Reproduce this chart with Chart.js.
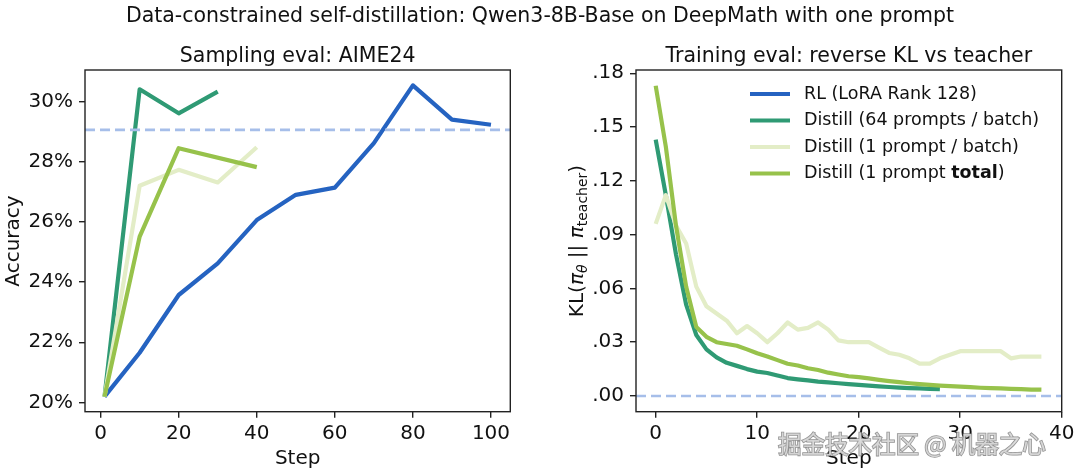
<!DOCTYPE html>
<html>
<head>
<meta charset="utf-8">
<script src="https://cdn.jsdelivr.net/npm/chart.js@4.4.0/dist/chart.umd.min.js"></script>
<style>
  html, body { margin: 0; padding: 0; background: #fff; }
  #wrap { position: relative; width: 1080px; height: 476px; }
  canvas { position: absolute; left: 0; top: 0; }
</style>
</head>
<body>
<div id="wrap">
  <canvas id="chart-aime" width="1080" height="476"></canvas>
  <canvas id="chart-kl" width="1080" height="476"></canvas>
</div>
<script>
// === DATOS ===
const nombres = ['RL (LoRA Rank 128)', 'Distill (64 prompts / batch)', 'Distill (1 prompt / batch)', 'Distill (1 prompt total)'];
const colores = ['#2563c1', '#2f9a74', '#e3edc7', '#97c24b'];

// AIME24 (accuracy %, evaluated every 10 steps)
const pasosEval = [1, 10, 20, 30, 40, 50, 60, 70, 80, 90, 100];
const accRL = [20.19, 21.65, 23.57, 24.62, 26.06, 26.90, 27.14, 28.62, 30.54, 29.40, 29.23];
const acc64 = [20.19, 30.41, 29.61, 30.33];
const accUnoBatch = [20.19, 27.20, 27.73, 27.31, 28.48];
const accUnoTotal = [20.19, 25.51, 28.45, null, 27.82];
const accBase = 29.06;
const ticksAcc = [20, 22, 24, 26, 28, 30];
const ticksPasoIzq = [0, 20, 40, 60, 80, 100];

// reverse KL vs teacher (one value per step)
const kl64 = [0.143, 0.112, 0.079, 0.051, 0.034, 0.026, 0.0215, 0.0185, 0.0168, 0.015,
  0.0136, 0.0128, 0.0114, 0.0100, 0.0093, 0.0087, 0.0080, 0.0076, 0.0071, 0.0066,
  0.0062, 0.0058, 0.0054, 0.0050, 0.0047, 0.0044, 0.0042, 0.0040, 0.0038];
const klUnoBatch = [0.096, 0.112, 0.095, 0.085, 0.061, 0.050, 0.046, 0.042, 0.035, 0.039,
  0.035, 0.030, 0.035, 0.041, 0.037, 0.038, 0.041, 0.037, 0.031, 0.030,
  0.030, 0.030, 0.027, 0.024, 0.023, 0.021, 0.018, 0.018, 0.021, 0.023,
  0.025, 0.025, 0.025, 0.025, 0.025, 0.021, 0.022, 0.022, 0.022];
const klUnoTotal = [0.173, 0.139, 0.095, 0.061, 0.0385, 0.033, 0.030, 0.029, 0.028, 0.026,
  0.0238, 0.022, 0.020, 0.018, 0.017, 0.0155, 0.0145, 0.013, 0.012, 0.011,
  0.0105, 0.0098, 0.0090, 0.0083, 0.0077, 0.0071, 0.0066, 0.0062, 0.0058, 0.0055,
  0.0052, 0.0049, 0.0046, 0.0044, 0.0042, 0.0040, 0.0038, 0.0036, 0.0035];
const klBase = 0;
const ticksKL = [0, 0.03, 0.06, 0.09, 0.12, 0.15, 0.18];
const ticksPasoDer = [0, 10, 20, 30, 40];

const FUENTE = 'DejaVu Sans';
const TINTA = '#111';
Chart.defaults.font.family = FUENTE;
Chart.defaults.color = TINTA;

const aPuntos = (xs, ys) => ys.map((y, i) => ({ x: xs[i], y: y }));
const porPaso = ys => ys.map((y, i) => ({ x: i, y: y }));

function serie(idx, datos, orden) {
  return {
    label: nombres[idx], data: datos, borderColor: colores[idx], backgroundColor: colores[idx],
    borderWidth: 4.2, pointRadius: 0, tension: 0, spanGaps: true,
    borderJoinStyle: 'round', order: orden
  };
}
function lineaBase(y, x0, x1, ancho, dash) {
  return {
    label: 'base', data: [{ x: x0, y: y }, { x: x1, y: y }], borderColor: '#a6bee9',
    borderWidth: ancho, borderDash: dash, pointRadius: 0, order: 0
  };
}

function ejes(xMin, xMax, xTicks, yMin, yMax, yTicks, yFmt, anchoY) {
  const grid = { drawOnChartArea: false, drawTicks: true, tickLength: 6, color: '#222', lineWidth: 1.4 };
  return {
    x: {
      type: 'linear', min: xMin, max: xMax,
      afterBuildTicks: s => { s.ticks = xTicks.map(v => ({ value: v })); },
      afterFit: s => { s.height = 476 - 411.7; },
      grid: grid, border: { display: false },
      ticks: { font: { size: 20 }, padding: 4, maxRotation: 0, autoSkip: false }
    },
    y: {
      min: yMin, max: yMax,
      afterBuildTicks: s => { s.ticks = yTicks.map(v => ({ value: v })); },
      afterFit: s => { s.width = anchoY; },
      grid: grid, border: { display: false },
      ticks: { font: { size: 20 }, padding: 6, autoSkip: false, callback: yFmt }
    }
  };
}

// === DECORACIÓN (marco, títulos, leyenda) ===
function textoMixto(ctx, partes, cx, cy) {
  let total = 0;
  partes.forEach(p => { ctx.font = p.f; total += ctx.measureText(p.t).width; });
  let x = cx - total / 2;
  partes.forEach(p => {
    ctx.font = p.f;
    ctx.fillText(p.t, x, cy + (p.dy || 0));
    x += ctx.measureText(p.t).width;
  });
}

const deco = {
  id: 'deco',
  afterDraw(chart, args, o) {
    const ctx = chart.ctx, a = chart.chartArea;
    ctx.save();
    ctx.strokeStyle = '#222';
    ctx.lineWidth = 1.4;
    ctx.strokeRect(a.left, a.top, a.right - a.left, a.bottom - a.top);
    ctx.fillStyle = TINTA;
    ctx.textBaseline = 'alphabetic';
    ctx.textAlign = 'center';
    const cx = (a.left + a.right) / 2;
    if (o.suptitulo) {
      ctx.font = `20.5px ${FUENTE}`;
      ctx.fillText(o.suptitulo, 540, 22);
    }
    ctx.font = `20.5px ${FUENTE}`;
    ctx.fillText(o.titulo, cx, 61.5);
    ctx.font = `20px ${FUENTE}`;
    ctx.fillText('Step', cx, 464);

    ctx.save();
    ctx.translate(o.yTituloX, 241);
    ctx.rotate(-Math.PI / 2);
    if (o.yTitulo) {
      ctx.fillText(o.yTitulo, 0, 0);
    } else {
      ctx.textAlign = 'left';
      textoMixto(ctx, [
        { t: 'KL(', f: `20px ${FUENTE}` },
        { t: 'π', f: `italic 20px ${FUENTE}` },
        { t: 'θ', f: `italic 14px ${FUENTE}`, dy: 4 },
        { t: ' || ', f: `20px ${FUENTE}` },
        { t: 'π', f: `italic 20px ${FUENTE}` },
        { t: 'teacher', f: `14px ${FUENTE}`, dy: 4 },
        { t: ')', f: `20px ${FUENTE}` }
      ], 0, 0);
    }
    ctx.restore();

    if (o.leyenda) {
      ctx.textAlign = 'left';
      ctx.textBaseline = 'middle';
      nombres.forEach((n, i) => {
        const y = 94 + i * 26.5;
        ctx.strokeStyle = colores[i];
        ctx.lineWidth = 4.2;
        ctx.beginPath();
        ctx.moveTo(750, y);
        ctx.lineTo(790, y);
        ctx.stroke();
        ctx.fillStyle = TINTA;
        if (i === 3) {
          let x = 804;
          [['Distill (1 prompt ', ''], ['total', 'bold '], [')', '']].forEach(([t, w]) => {
            ctx.font = `${w}17.5px ${FUENTE}`;
            ctx.fillText(t, x, y);
            x += ctx.measureText(t).width;
          });
        } else {
          ctx.font = `17.5px ${FUENTE}`;
          ctx.fillText(n, 804, y);
        }
      });
      // marca de agua
      ctx.font = '23.5px "Noto Sans CJK SC"';
      ctx.lineWidth = 1.6;
      ctx.strokeStyle = 'rgba(110,110,110,0.75)';
      ctx.fillStyle = 'rgba(225,225,225,0.85)';
      ctx.strokeText('掘金技术社区 @ 机器之心', 778, 444);
      ctx.fillText('掘金技术社区 @ 机器之心', 778, 444);
    }
    ctx.restore();
  }
};

// === GRÁFICA 1: AIME24 ===
new Chart(document.getElementById('chart-aime'), {
  type: 'line',
  data: {
    datasets: [
      lineaBase(accBase, -4, 104.95, 2.6, [10, 5]),
      serie(0, aPuntos(pasosEval, accRL), 4),
      serie(1, aPuntos(pasosEval, acc64), 3),
      serie(2, aPuntos(pasosEval, accUnoBatch), 2),
      serie(3, aPuntos(pasosEval, accUnoTotal), 1)
    ]
  },
  options: {
    responsive: false, animation: false, events: [],
    layout: { padding: { left: 0, right: 1080 - 510.3, top: 70, bottom: 0 } },
    scales: ejes(-4, 104.95, ticksPasoIzq, 19.69, 31.05, ticksAcc, v => v + '%', 85),
    plugins: {
      legend: { display: false }, tooltip: { enabled: false },
      deco: {
        suptitulo: 'Data-constrained self-distillation: Qwen3-8B-Base on DeepMath with one prompt',
        titulo: 'Sampling eval: AIME24', yTitulo: 'Accuracy', yTituloX: 18.5
      }
    }
  },
  plugins: [deco]
});

// === GRÁFICA 2: KL ===
new Chart(document.getElementById('chart-kl'), {
  type: 'line',
  data: {
    datasets: [
      lineaBase(klBase, -1.94, 40, 2.4, [10, 5]),
      serie(1, porPaso(kl64), 3),
      serie(2, porPaso(klUnoBatch), 2),
      serie(3, porPaso(klUnoTotal), 1)
    ]
  },
  options: {
    responsive: false, animation: false, events: [],
    layout: { padding: { left: 540, right: 1080 - 1061.7, top: 70, bottom: 0 } },
    scales: ejes(-1.94, 40, ticksPasoDer, -0.00876, 0.1818, ticksKL,
      v => v.toFixed(2).replace('0.', '.'), 96),
    plugins: {
      legend: { display: false }, tooltip: { enabled: false },
      deco: { titulo: 'Training eval: reverse KL vs teacher', yTituloX: 583, leyenda: true }
    }
  },
  plugins: [deco]
});
</script>
</body>
</html>
